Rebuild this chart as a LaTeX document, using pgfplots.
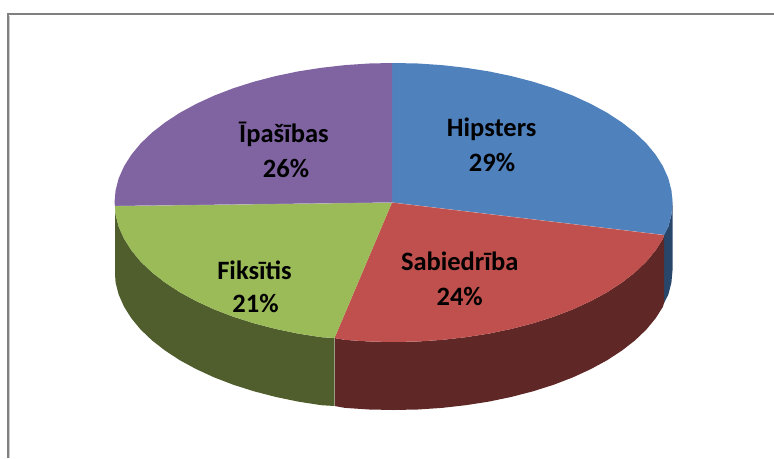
\documentclass[border=0pt]{standalone}
\usepackage{pgfplots}
\pgfplotsset{compat=1.18}
\usepackage{fontspec}
\setmainfont{Carlito}
\definecolor{cblue}{HTML}{4F81BD}
\definecolor{cred}{HTML}{C0504D}
\definecolor{cgreen}{HTML}{9BBB59}
\definecolor{cpurple}{HTML}{8064A2}
\definecolor{dblue}{HTML}{27466A}
\definecolor{dred}{HTML}{5F2726}
\definecolor{dgreen}{HTML}{4F5E2C}
\tikzset{lbl/.style={font=\fontsize{26.5}{30}\selectfont\bfseries, text=black, anchor=base, inner sep=0pt, outer sep=0pt}}
\begin{document}
\begin{tikzpicture}
\begin{axis}[
  scale only axis, width=774pt, height=458pt,
  xmin=0, xmax=774, ymin=0, ymax=458, y dir=reverse,
  hide axis,
]
% background and frame
\addplot[fill=white, draw=none] coordinates {(0,0)(774,0)(774,458)(0,458)} --cycle;
\addplot[draw=black!50, line width=1.8pt] coordinates {(774,14)(8,14)(8,458)};
\addplot[draw=black!20, line width=0.8pt] coordinates {(9.6,458)(9.6,15.6)};
% side walls
\addplot[fill=dblue, draw=none] coordinates {
(671.4,190.3)(672.5,202.5)(671.4,214.7)(668.3,226.7)(664,235)
(664,303)(668.3,294.7)(671.4,282.7)(672.5,270.5)(672.5,202.5)} --cycle;
\addplot[fill=dred, draw=none] coordinates {
(664,235)(663,238.6)(655.7,250.2)(646.4,261.5)(635.1,272.3)(622,282.5)(607.2,292.2)(590.8,301.1)
(572.8,309.4)(553.5,316.8)(533,323.3)(511.4,328.9)(488.9,333.6)(465.7,337.2)(441.9,339.9)(417.8,341.5)
(393.5,342)(369.2,341.5)(345.1,339.9)(334.5,338)
(334.5,406)(345.1,407.9)(369.2,409.5)(393.5,410)(417.8,409.5)(441.9,407.9)(465.7,405.2)(488.9,401.6)
(511.4,396.9)(533,391.3)(553.5,384.8)(572.8,377.4)(590.8,369.1)(607.2,360.2)(622,350.5)(635.1,340.3)
(646.4,329.5)(655.7,318.2)(663,306.6)(664,303)} --cycle;
\addplot[fill=dgreen, draw=none] coordinates {
(334.5,338)(321.3,337.2)(298.1,333.6)(275.6,328.9)(254,323.3)(233.5,316.8)(214.2,309.4)(196.2,301.1)
(179.8,292.2)(165,282.5)(151.9,272.3)(140.6,261.5)(131.3,250.2)(124,238.6)(118.7,226.7)(115.6,214.7)(115,206)
(115,274)(115.6,282.7)(118.7,294.7)(124,306.6)(131.3,318.2)(140.6,329.5)(151.9,340.3)(165,350.5)
(179.8,360.2)(196.2,369.1)(214.2,377.4)(233.5,384.8)(254,391.3)(275.6,396.9)(298.1,401.6)(321.3,405.2)(334.5,406)} --cycle;
% top faces
\addplot[fill=cblue, draw=none] coordinates {
(392,202.5)(392,63)(393.5,63)(417.8,63.5)(441.9,65.1)(465.7,67.8)(488.9,71.4)(511.4,76.1)(533,81.7)
(553.5,88.2)(572.8,95.6)(590.8,103.9)(607.2,112.8)(622,122.5)(635.1,132.7)(646.4,143.5)(655.7,154.8)
(663,166.4)(668.3,178.3)(671.4,190.3)(672.5,202.5)(671.4,214.7)(668.3,226.7)(664,235)} --cycle;
\addplot[fill=cred, draw=none] coordinates {
(392,202.5)(664,235)(663,238.6)(655.7,250.2)(646.4,261.5)(635.1,272.3)(622,282.5)(607.2,292.2)(590.8,301.1)
(572.8,309.4)(553.5,316.8)(533,323.3)(511.4,328.9)(488.9,333.6)(465.7,337.2)(441.9,339.9)(417.8,341.5)
(393.5,342)(369.2,341.5)(345.1,339.9)(334.5,338)} --cycle;
\addplot[fill=cgreen, draw=none] coordinates {
(392,202.5)(334.5,338)(321.3,337.2)(298.1,333.6)(275.6,328.9)(254,323.3)(233.5,316.8)(214.2,309.4)(196.2,301.1)
(179.8,292.2)(165,282.5)(151.9,272.3)(140.6,261.5)(131.3,250.2)(124,238.6)(118.7,226.7)(115.6,214.7)(115,206)} --cycle;
\addplot[fill=cpurple, draw=none] coordinates {
(392,202.5)(115,206)(114.5,202.5)(115.6,190.3)(118.7,178.3)(124,166.4)(131.3,154.8)(140.6,143.5)(151.9,132.7)
(165,122.5)(179.8,112.8)(196.2,103.9)(214.2,95.6)(233.5,88.2)(254,81.7)(275.6,76.1)(298.1,71.4)(321.3,67.8)
(345.1,65.1)(369.2,63.5)(392,63)} --cycle;
% seams
\addplot[draw=white, opacity=0.3, line width=0.4pt] coordinates {(115,206)(392,202.5)};
\addplot[draw=white, opacity=0.3, line width=0.4pt] coordinates {(392,202.5)(664,235)};
\addplot[draw=white, opacity=0.25, line width=0.3pt] coordinates {(334.5,338)(334.5,406)};
% labels
\node[lbl] at (axis cs:284,142) {Īpašības};
\node[lbl] at (axis cs:286,177) {26\%};
\node[lbl] at (axis cs:491.7,136) {Hipsters};
\node[lbl] at (axis cs:492,171) {29\%};
\node[lbl] at (axis cs:254.5,279) {Fiksītis};
\node[lbl] at (axis cs:255.5,312) {21\%};
\node[lbl] at (axis cs:459.7,270.5) {Sabiedrība};
\node[lbl] at (axis cs:459.7,305) {24\%};
\end{axis}
\end{tikzpicture}
\end{document}
